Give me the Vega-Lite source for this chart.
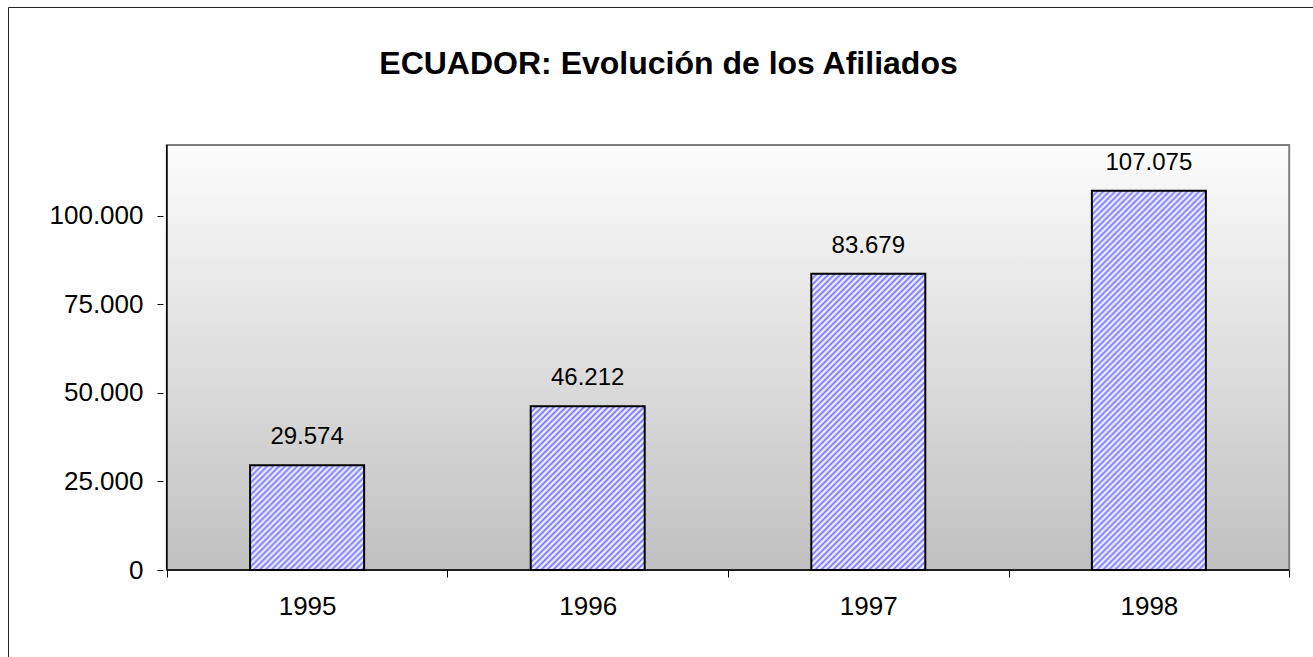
{
"$schema": "https://vega.github.io/schema/vega-lite/v6.json",
"width": 1310,
"height": 655,
"autosize": {"type": "none"},
"padding": {"left": 8, "top": 7, "right": -5, "bottom": -5},
"background": "#ffffff",
"config": {
  "view": {"stroke": null},
  "locale": {"number": {"decimal": ",", "thousands": ".", "grouping": [3], "currency": ["", " €"]}},
  "font": "Liberation Sans",
  "axis": {"labelFont": "Liberation Sans", "labelFontSize": 26, "labelColor": "#000", "grid": false}
},
"title": {"text": "ECUADOR: Evolución de los Afiliados", "font": "Liberation Sans", "fontSize": 32, "fontWeight": "bold", "color": "#000", "anchor": "middle", "frame": "group", "baseline": "alphabetic", "offset": -99, "dx": 5.5},
"data": {"values": [
  {"year": 1995, "value": 29574},
  {"year": 1996, "value": 46212},
  {"year": 1997, "value": 83679},
  {"year": 1998, "value": 107075}
]},
"resolve": {"axis": {"x": "independent", "y": "independent"}},
"layer": [
{
  "data": {"values": [{}]},
  "mark": {"type": "rect", "fill": {"gradient": "linear", "x1": 0, "y1": 0, "x2": 0, "y2": 1, "stops": [{"offset": 0, "color": "#fcfcfc"}, {"offset": 1, "color": "#c0c0c0"}]}, "stroke": "#808080", "strokeWidth": 2},
  "encoding": {
    "x": {"datum": 1994.5, "type": "quantitative", "scale": {"domain": [1993.9518, 1998.5849], "nice": false, "zero": false}, "axis": {"orient": "top", "domain": true, "domainColor": "#222", "domainWidth": 1, "ticks": false, "labels": false, "title": null, "values": []}},
    "x2": {"datum": 1998.5},
    "y": {"datum": 0, "type": "quantitative", "scale": {"domain": [-25976, 158965], "nice": false, "zero": false}, "axis": {"orient": "left", "domain": true, "domainColor": "#222", "domainWidth": 1, "ticks": false, "labels": false, "title": null, "values": []}},
    "y2": {"datum": 120000}
  }
},
{
  "transform": [{"filter": "datum.year == 1995"}],
  "mark": {"type": "bar", "width": 114, "stroke": "#000", "strokeWidth": 2, "fill": {"gradient": "linear", "x1": 0, "y1": 0, "x2": 2.3688, "y2": 2.1764, "stops": [
{"offset":0,"color":"#77f"},{"offset":0.006,"color":"#fff"},{"offset":0.012,"color":"#77f"},{"offset":0.0181,"color":"#fff"},{"offset":0.0241,"color":"#77f"},{"offset":0.0301,"color":"#fff"},{"offset":0.0361,"color":"#77f"},{"offset":0.0422,"color":"#fff"},{"offset":0.0482,"color":"#77f"},{"offset":0.0542,"color":"#fff"},{"offset":0.0602,"color":"#77f"},{"offset":0.0663,"color":"#fff"},{"offset":0.0723,"color":"#77f"},{"offset":0.0783,"color":"#fff"},{"offset":0.0843,"color":"#77f"},{"offset":0.0904,"color":"#fff"},{"offset":0.0964,"color":"#77f"},{"offset":0.1024,"color":"#fff"},{"offset":0.1084,"color":"#77f"},{"offset":0.1145,"color":"#fff"},{"offset":0.1205,"color":"#77f"},{"offset":0.1265,"color":"#fff"},{"offset":0.1325,"color":"#77f"},{"offset":0.1386,"color":"#fff"},{"offset":0.1446,"color":"#77f"},{"offset":0.1506,"color":"#fff"},{"offset":0.1566,"color":"#77f"},{"offset":0.1627,"color":"#fff"},{"offset":0.1687,"color":"#77f"},{"offset":0.1747,"color":"#fff"},{"offset":0.1807,"color":"#77f"},{"offset":0.1867,"color":"#fff"},{"offset":0.1928,"color":"#77f"},{"offset":0.1988,"color":"#fff"},{"offset":0.2048,"color":"#77f"},{"offset":0.2108,"color":"#fff"},{"offset":0.2169,"color":"#77f"},{"offset":0.2229,"color":"#fff"},{"offset":0.2289,"color":"#77f"},{"offset":0.2349,"color":"#fff"},{"offset":0.241,"color":"#77f"},{"offset":0.247,"color":"#fff"},{"offset":0.253,"color":"#77f"},{"offset":0.259,"color":"#fff"},{"offset":0.2651,"color":"#77f"},{"offset":0.2711,"color":"#fff"},{"offset":0.2771,"color":"#77f"},{"offset":0.2831,"color":"#fff"},{"offset":0.2892,"color":"#77f"},{"offset":0.2952,"color":"#fff"},{"offset":0.3012,"color":"#77f"},{"offset":0.3072,"color":"#fff"},{"offset":0.3133,"color":"#77f"},{"offset":0.3193,"color":"#fff"},{"offset":0.3253,"color":"#77f"},{"offset":0.3313,"color":"#fff"},{"offset":0.3373,"color":"#77f"},{"offset":0.3434,"color":"#fff"},{"offset":0.3494,"color":"#77f"},{"offset":0.3554,"color":"#fff"},{"offset":0.3614,"color":"#77f"},{"offset":0.3675,"color":"#fff"},{"offset":0.3735,"color":"#77f"},{"offset":0.3795,"color":"#fff"},{"offset":0.3855,"color":"#77f"},{"offset":0.3916,"color":"#fff"},{"offset":0.3976,"color":"#77f"},{"offset":0.4036,"color":"#fff"},{"offset":0.4096,"color":"#77f"},{"offset":0.4157,"color":"#fff"},{"offset":0.4217,"color":"#77f"},{"offset":0.4277,"color":"#fff"},{"offset":0.4337,"color":"#77f"},{"offset":0.4398,"color":"#fff"},{"offset":0.4458,"color":"#77f"}
  ]}},
  "encoding": {
    "x": {"field": "year", "type": "quantitative", "scale": {"domain": [1993.9518, 1998.5849], "nice": false, "zero": false}, "axis": null},
    "y": {"field": "value", "type": "quantitative", "scale": {"domain": [-25976, 158965], "nice": false, "zero": false}, "axis": null},
    "y2": {"datum": 0}
  }
},
{
  "transform": [{"filter": "datum.year == 1996"}],
  "mark": {"type": "bar", "width": 114, "stroke": "#000", "strokeWidth": 2, "fill": {"gradient": "linear", "x1": 0, "y1": 0, "x2": 1.427, "y2": 2.0488, "stops": [
{"offset":0,"color":"#77f"},{"offset":0.006,"color":"#fff"},{"offset":0.012,"color":"#77f"},{"offset":0.0181,"color":"#fff"},{"offset":0.0241,"color":"#77f"},{"offset":0.0301,"color":"#fff"},{"offset":0.0361,"color":"#77f"},{"offset":0.0422,"color":"#fff"},{"offset":0.0482,"color":"#77f"},{"offset":0.0542,"color":"#fff"},{"offset":0.0602,"color":"#77f"},{"offset":0.0663,"color":"#fff"},{"offset":0.0723,"color":"#77f"},{"offset":0.0783,"color":"#fff"},{"offset":0.0843,"color":"#77f"},{"offset":0.0904,"color":"#fff"},{"offset":0.0964,"color":"#77f"},{"offset":0.1024,"color":"#fff"},{"offset":0.1084,"color":"#77f"},{"offset":0.1145,"color":"#fff"},{"offset":0.1205,"color":"#77f"},{"offset":0.1265,"color":"#fff"},{"offset":0.1325,"color":"#77f"},{"offset":0.1386,"color":"#fff"},{"offset":0.1446,"color":"#77f"},{"offset":0.1506,"color":"#fff"},{"offset":0.1566,"color":"#77f"},{"offset":0.1627,"color":"#fff"},{"offset":0.1687,"color":"#77f"},{"offset":0.1747,"color":"#fff"},{"offset":0.1807,"color":"#77f"},{"offset":0.1867,"color":"#fff"},{"offset":0.1928,"color":"#77f"},{"offset":0.1988,"color":"#fff"},{"offset":0.2048,"color":"#77f"},{"offset":0.2108,"color":"#fff"},{"offset":0.2169,"color":"#77f"},{"offset":0.2229,"color":"#fff"},{"offset":0.2289,"color":"#77f"},{"offset":0.2349,"color":"#fff"},{"offset":0.241,"color":"#77f"},{"offset":0.247,"color":"#fff"},{"offset":0.253,"color":"#77f"},{"offset":0.259,"color":"#fff"},{"offset":0.2651,"color":"#77f"},{"offset":0.2711,"color":"#fff"},{"offset":0.2771,"color":"#77f"},{"offset":0.2831,"color":"#fff"},{"offset":0.2892,"color":"#77f"},{"offset":0.2952,"color":"#fff"},{"offset":0.3012,"color":"#77f"},{"offset":0.3072,"color":"#fff"},{"offset":0.3133,"color":"#77f"},{"offset":0.3193,"color":"#fff"},{"offset":0.3253,"color":"#77f"},{"offset":0.3313,"color":"#fff"},{"offset":0.3373,"color":"#77f"},{"offset":0.3434,"color":"#fff"},{"offset":0.3494,"color":"#77f"},{"offset":0.3554,"color":"#fff"},{"offset":0.3614,"color":"#77f"},{"offset":0.3675,"color":"#fff"},{"offset":0.3735,"color":"#77f"},{"offset":0.3795,"color":"#fff"},{"offset":0.3855,"color":"#77f"},{"offset":0.3916,"color":"#fff"},{"offset":0.3976,"color":"#77f"},{"offset":0.4036,"color":"#fff"},{"offset":0.4096,"color":"#77f"},{"offset":0.4157,"color":"#fff"},{"offset":0.4217,"color":"#77f"},{"offset":0.4277,"color":"#fff"},{"offset":0.4337,"color":"#77f"},{"offset":0.4398,"color":"#fff"},{"offset":0.4458,"color":"#77f"},{"offset":0.4518,"color":"#fff"},{"offset":0.4578,"color":"#77f"},{"offset":0.4639,"color":"#fff"},{"offset":0.4699,"color":"#77f"},{"offset":0.4759,"color":"#fff"},{"offset":0.4819,"color":"#77f"},{"offset":0.488,"color":"#fff"},{"offset":0.494,"color":"#77f"},{"offset":0.5,"color":"#fff"},{"offset":0.506,"color":"#77f"},{"offset":0.512,"color":"#fff"},{"offset":0.5181,"color":"#77f"},{"offset":0.5241,"color":"#fff"},{"offset":0.5301,"color":"#77f"},{"offset":0.5361,"color":"#fff"},{"offset":0.5422,"color":"#77f"},{"offset":0.5482,"color":"#fff"},{"offset":0.5542,"color":"#77f"},{"offset":0.5602,"color":"#fff"},{"offset":0.5663,"color":"#77f"}
  ]}},
  "encoding": {
    "x": {"field": "year", "type": "quantitative", "scale": {"domain": [1993.9518, 1998.5849], "nice": false, "zero": false}, "axis": null},
    "y": {"field": "value", "type": "quantitative", "scale": {"domain": [-25976, 158965], "nice": false, "zero": false}, "axis": null},
    "y2": {"datum": 0}
  }
},
{
  "transform": [{"filter": "datum.year == 1997"}],
  "mark": {"type": "bar", "width": 114, "stroke": "#000", "strokeWidth": 2, "fill": {"gradient": "linear", "x1": 0, "y1": 0, "x2": 0.56304, "y2": 1.46376, "stops": [
{"offset":0,"color":"#77f"},{"offset":0.006,"color":"#fff"},{"offset":0.012,"color":"#77f"},{"offset":0.0181,"color":"#fff"},{"offset":0.0241,"color":"#77f"},{"offset":0.0301,"color":"#fff"},{"offset":0.0361,"color":"#77f"},{"offset":0.0422,"color":"#fff"},{"offset":0.0482,"color":"#77f"},{"offset":0.0542,"color":"#fff"},{"offset":0.0602,"color":"#77f"},{"offset":0.0663,"color":"#fff"},{"offset":0.0723,"color":"#77f"},{"offset":0.0783,"color":"#fff"},{"offset":0.0843,"color":"#77f"},{"offset":0.0904,"color":"#fff"},{"offset":0.0964,"color":"#77f"},{"offset":0.1024,"color":"#fff"},{"offset":0.1084,"color":"#77f"},{"offset":0.1145,"color":"#fff"},{"offset":0.1205,"color":"#77f"},{"offset":0.1265,"color":"#fff"},{"offset":0.1325,"color":"#77f"},{"offset":0.1386,"color":"#fff"},{"offset":0.1446,"color":"#77f"},{"offset":0.1506,"color":"#fff"},{"offset":0.1566,"color":"#77f"},{"offset":0.1627,"color":"#fff"},{"offset":0.1687,"color":"#77f"},{"offset":0.1747,"color":"#fff"},{"offset":0.1807,"color":"#77f"},{"offset":0.1867,"color":"#fff"},{"offset":0.1928,"color":"#77f"},{"offset":0.1988,"color":"#fff"},{"offset":0.2048,"color":"#77f"},{"offset":0.2108,"color":"#fff"},{"offset":0.2169,"color":"#77f"},{"offset":0.2229,"color":"#fff"},{"offset":0.2289,"color":"#77f"},{"offset":0.2349,"color":"#fff"},{"offset":0.241,"color":"#77f"},{"offset":0.247,"color":"#fff"},{"offset":0.253,"color":"#77f"},{"offset":0.259,"color":"#fff"},{"offset":0.2651,"color":"#77f"},{"offset":0.2711,"color":"#fff"},{"offset":0.2771,"color":"#77f"},{"offset":0.2831,"color":"#fff"},{"offset":0.2892,"color":"#77f"},{"offset":0.2952,"color":"#fff"},{"offset":0.3012,"color":"#77f"},{"offset":0.3072,"color":"#fff"},{"offset":0.3133,"color":"#77f"},{"offset":0.3193,"color":"#fff"},{"offset":0.3253,"color":"#77f"},{"offset":0.3313,"color":"#fff"},{"offset":0.3373,"color":"#77f"},{"offset":0.3434,"color":"#fff"},{"offset":0.3494,"color":"#77f"},{"offset":0.3554,"color":"#fff"},{"offset":0.3614,"color":"#77f"},{"offset":0.3675,"color":"#fff"},{"offset":0.3735,"color":"#77f"},{"offset":0.3795,"color":"#fff"},{"offset":0.3855,"color":"#77f"},{"offset":0.3916,"color":"#fff"},{"offset":0.3976,"color":"#77f"},{"offset":0.4036,"color":"#fff"},{"offset":0.4096,"color":"#77f"},{"offset":0.4157,"color":"#fff"},{"offset":0.4217,"color":"#77f"},{"offset":0.4277,"color":"#fff"},{"offset":0.4337,"color":"#77f"},{"offset":0.4398,"color":"#fff"},{"offset":0.4458,"color":"#77f"},{"offset":0.4518,"color":"#fff"},{"offset":0.4578,"color":"#77f"},{"offset":0.4639,"color":"#fff"},{"offset":0.4699,"color":"#77f"},{"offset":0.4759,"color":"#fff"},{"offset":0.4819,"color":"#77f"},{"offset":0.488,"color":"#fff"},{"offset":0.494,"color":"#77f"},{"offset":0.5,"color":"#fff"},{"offset":0.506,"color":"#77f"},{"offset":0.512,"color":"#fff"},{"offset":0.5181,"color":"#77f"},{"offset":0.5241,"color":"#fff"},{"offset":0.5301,"color":"#77f"},{"offset":0.5361,"color":"#fff"},{"offset":0.5422,"color":"#77f"},{"offset":0.5482,"color":"#fff"},{"offset":0.5542,"color":"#77f"},{"offset":0.5602,"color":"#fff"},{"offset":0.5663,"color":"#77f"},{"offset":0.5723,"color":"#fff"},{"offset":0.5783,"color":"#77f"},{"offset":0.5843,"color":"#fff"},{"offset":0.5904,"color":"#77f"},{"offset":0.5964,"color":"#fff"},{"offset":0.6024,"color":"#77f"},{"offset":0.6084,"color":"#fff"},{"offset":0.6145,"color":"#77f"},{"offset":0.6205,"color":"#fff"},{"offset":0.6265,"color":"#77f"},{"offset":0.6325,"color":"#fff"},{"offset":0.6386,"color":"#77f"},{"offset":0.6446,"color":"#fff"},{"offset":0.6506,"color":"#77f"},{"offset":0.6566,"color":"#fff"},{"offset":0.6627,"color":"#77f"},{"offset":0.6687,"color":"#fff"},{"offset":0.6747,"color":"#77f"},{"offset":0.6807,"color":"#fff"},{"offset":0.6867,"color":"#77f"},{"offset":0.6928,"color":"#fff"},{"offset":0.6988,"color":"#77f"},{"offset":0.7048,"color":"#fff"},{"offset":0.7108,"color":"#77f"},{"offset":0.7169,"color":"#fff"},{"offset":0.7229,"color":"#77f"},{"offset":0.7289,"color":"#fff"},{"offset":0.7349,"color":"#77f"},{"offset":0.741,"color":"#fff"},{"offset":0.747,"color":"#77f"},{"offset":0.753,"color":"#fff"},{"offset":0.759,"color":"#77f"},{"offset":0.7651,"color":"#fff"},{"offset":0.7711,"color":"#77f"},{"offset":0.7771,"color":"#fff"},{"offset":0.7831,"color":"#77f"},{"offset":0.7892,"color":"#fff"},{"offset":0.7952,"color":"#77f"},{"offset":0.8012,"color":"#fff"},{"offset":0.8072,"color":"#77f"},{"offset":0.8133,"color":"#fff"},{"offset":0.8193,"color":"#77f"},{"offset":0.8253,"color":"#fff"},{"offset":0.8313,"color":"#77f"}
  ]}},
  "encoding": {
    "x": {"field": "year", "type": "quantitative", "scale": {"domain": [1993.9518, 1998.5849], "nice": false, "zero": false}, "axis": null},
    "y": {"field": "value", "type": "quantitative", "scale": {"domain": [-25976, 158965], "nice": false, "zero": false}, "axis": null},
    "y2": {"datum": 0}
  }
},
{
  "transform": [{"filter": "datum.year == 1998"}],
  "mark": {"type": "bar", "width": 114, "stroke": "#000", "strokeWidth": 2, "fill": {"gradient": "linear", "x1": 0, "y1": 0, "x2": 0.36204, "y2": 1.20436, "stops": [
{"offset":0,"color":"#77f"},{"offset":0.006,"color":"#fff"},{"offset":0.012,"color":"#77f"},{"offset":0.0181,"color":"#fff"},{"offset":0.0241,"color":"#77f"},{"offset":0.0301,"color":"#fff"},{"offset":0.0361,"color":"#77f"},{"offset":0.0422,"color":"#fff"},{"offset":0.0482,"color":"#77f"},{"offset":0.0542,"color":"#fff"},{"offset":0.0602,"color":"#77f"},{"offset":0.0663,"color":"#fff"},{"offset":0.0723,"color":"#77f"},{"offset":0.0783,"color":"#fff"},{"offset":0.0843,"color":"#77f"},{"offset":0.0904,"color":"#fff"},{"offset":0.0964,"color":"#77f"},{"offset":0.1024,"color":"#fff"},{"offset":0.1084,"color":"#77f"},{"offset":0.1145,"color":"#fff"},{"offset":0.1205,"color":"#77f"},{"offset":0.1265,"color":"#fff"},{"offset":0.1325,"color":"#77f"},{"offset":0.1386,"color":"#fff"},{"offset":0.1446,"color":"#77f"},{"offset":0.1506,"color":"#fff"},{"offset":0.1566,"color":"#77f"},{"offset":0.1627,"color":"#fff"},{"offset":0.1687,"color":"#77f"},{"offset":0.1747,"color":"#fff"},{"offset":0.1807,"color":"#77f"},{"offset":0.1867,"color":"#fff"},{"offset":0.1928,"color":"#77f"},{"offset":0.1988,"color":"#fff"},{"offset":0.2048,"color":"#77f"},{"offset":0.2108,"color":"#fff"},{"offset":0.2169,"color":"#77f"},{"offset":0.2229,"color":"#fff"},{"offset":0.2289,"color":"#77f"},{"offset":0.2349,"color":"#fff"},{"offset":0.241,"color":"#77f"},{"offset":0.247,"color":"#fff"},{"offset":0.253,"color":"#77f"},{"offset":0.259,"color":"#fff"},{"offset":0.2651,"color":"#77f"},{"offset":0.2711,"color":"#fff"},{"offset":0.2771,"color":"#77f"},{"offset":0.2831,"color":"#fff"},{"offset":0.2892,"color":"#77f"},{"offset":0.2952,"color":"#fff"},{"offset":0.3012,"color":"#77f"},{"offset":0.3072,"color":"#fff"},{"offset":0.3133,"color":"#77f"},{"offset":0.3193,"color":"#fff"},{"offset":0.3253,"color":"#77f"},{"offset":0.3313,"color":"#fff"},{"offset":0.3373,"color":"#77f"},{"offset":0.3434,"color":"#fff"},{"offset":0.3494,"color":"#77f"},{"offset":0.3554,"color":"#fff"},{"offset":0.3614,"color":"#77f"},{"offset":0.3675,"color":"#fff"},{"offset":0.3735,"color":"#77f"},{"offset":0.3795,"color":"#fff"},{"offset":0.3855,"color":"#77f"},{"offset":0.3916,"color":"#fff"},{"offset":0.3976,"color":"#77f"},{"offset":0.4036,"color":"#fff"},{"offset":0.4096,"color":"#77f"},{"offset":0.4157,"color":"#fff"},{"offset":0.4217,"color":"#77f"},{"offset":0.4277,"color":"#fff"},{"offset":0.4337,"color":"#77f"},{"offset":0.4398,"color":"#fff"},{"offset":0.4458,"color":"#77f"},{"offset":0.4518,"color":"#fff"},{"offset":0.4578,"color":"#77f"},{"offset":0.4639,"color":"#fff"},{"offset":0.4699,"color":"#77f"},{"offset":0.4759,"color":"#fff"},{"offset":0.4819,"color":"#77f"},{"offset":0.488,"color":"#fff"},{"offset":0.494,"color":"#77f"},{"offset":0.5,"color":"#fff"},{"offset":0.506,"color":"#77f"},{"offset":0.512,"color":"#fff"},{"offset":0.5181,"color":"#77f"},{"offset":0.5241,"color":"#fff"},{"offset":0.5301,"color":"#77f"},{"offset":0.5361,"color":"#fff"},{"offset":0.5422,"color":"#77f"},{"offset":0.5482,"color":"#fff"},{"offset":0.5542,"color":"#77f"},{"offset":0.5602,"color":"#fff"},{"offset":0.5663,"color":"#77f"},{"offset":0.5723,"color":"#fff"},{"offset":0.5783,"color":"#77f"},{"offset":0.5843,"color":"#fff"},{"offset":0.5904,"color":"#77f"},{"offset":0.5964,"color":"#fff"},{"offset":0.6024,"color":"#77f"},{"offset":0.6084,"color":"#fff"},{"offset":0.6145,"color":"#77f"},{"offset":0.6205,"color":"#fff"},{"offset":0.6265,"color":"#77f"},{"offset":0.6325,"color":"#fff"},{"offset":0.6386,"color":"#77f"},{"offset":0.6446,"color":"#fff"},{"offset":0.6506,"color":"#77f"},{"offset":0.6566,"color":"#fff"},{"offset":0.6627,"color":"#77f"},{"offset":0.6687,"color":"#fff"},{"offset":0.6747,"color":"#77f"},{"offset":0.6807,"color":"#fff"},{"offset":0.6867,"color":"#77f"},{"offset":0.6928,"color":"#fff"},{"offset":0.6988,"color":"#77f"},{"offset":0.7048,"color":"#fff"},{"offset":0.7108,"color":"#77f"},{"offset":0.7169,"color":"#fff"},{"offset":0.7229,"color":"#77f"},{"offset":0.7289,"color":"#fff"},{"offset":0.7349,"color":"#77f"},{"offset":0.741,"color":"#fff"},{"offset":0.747,"color":"#77f"},{"offset":0.753,"color":"#fff"},{"offset":0.759,"color":"#77f"},{"offset":0.7651,"color":"#fff"},{"offset":0.7711,"color":"#77f"},{"offset":0.7771,"color":"#fff"},{"offset":0.7831,"color":"#77f"},{"offset":0.7892,"color":"#fff"},{"offset":0.7952,"color":"#77f"},{"offset":0.8012,"color":"#fff"},{"offset":0.8072,"color":"#77f"},{"offset":0.8133,"color":"#fff"},{"offset":0.8193,"color":"#77f"},{"offset":0.8253,"color":"#fff"},{"offset":0.8313,"color":"#77f"},{"offset":0.8373,"color":"#fff"},{"offset":0.8434,"color":"#77f"},{"offset":0.8494,"color":"#fff"},{"offset":0.8554,"color":"#77f"},{"offset":0.8614,"color":"#fff"},{"offset":0.8675,"color":"#77f"},{"offset":0.8735,"color":"#fff"},{"offset":0.8795,"color":"#77f"},{"offset":0.8855,"color":"#fff"},{"offset":0.8916,"color":"#77f"},{"offset":0.8976,"color":"#fff"},{"offset":0.9036,"color":"#77f"},{"offset":0.9096,"color":"#fff"},{"offset":0.9157,"color":"#77f"},{"offset":0.9217,"color":"#fff"},{"offset":0.9277,"color":"#77f"},{"offset":0.9337,"color":"#fff"},{"offset":0.9398,"color":"#77f"},{"offset":0.9458,"color":"#fff"},{"offset":0.9518,"color":"#77f"},{"offset":0.9578,"color":"#fff"},{"offset":0.9639,"color":"#77f"},{"offset":0.9699,"color":"#fff"},{"offset":0.9759,"color":"#77f"},{"offset":0.9819,"color":"#fff"},{"offset":0.988,"color":"#77f"},{"offset":0.994,"color":"#fff"},{"offset":1,"color":"#77f"}
  ]}},
  "encoding": {
    "x": {"field": "year", "type": "quantitative", "scale": {"domain": [1993.9518, 1998.5849], "nice": false, "zero": false}, "axis": null},
    "y": {"field": "value", "type": "quantitative", "scale": {"domain": [-25976, 158965], "nice": false, "zero": false}, "axis": null},
    "y2": {"datum": 0}
  }
},
{
  "data": {"values": [{}]},
  "mark": {"type": "rule", "color": "#000", "strokeWidth": 1.5},
  "encoding": {
    "x": {"datum": 1994.5, "type": "quantitative", "scale": {"domain": [1993.9518, 1998.5849], "nice": false, "zero": false}, "axis": {"orient": "bottom", "offset": -92, "domain": false, "labels": false, "ticks": true, "tickSize": 7, "tickColor": "#000", "tickWidth": 1, "values": [1994.5, 1995.5, 1996.5, 1997.5, 1998.5], "title": null, "zindex": 1}},
    "y": {"datum": 0, "type": "quantitative", "scale": {"domain": [-25976, 158965], "nice": false, "zero": false}, "axis": null},
    "y2": {"datum": 120000}
  }
},
{
  "data": {"values": [{}]},
  "mark": {"type": "rule", "color": "#000", "strokeWidth": 1.5},
  "encoding": {
    "x": {"datum": 1994.5, "type": "quantitative", "scale": {"domain": [1993.9518, 1998.5849], "nice": false, "zero": false}, "axis": null},
    "x2": {"datum": 1998.5},
    "y": {"datum": 0, "type": "quantitative", "scale": {"domain": [-25976, 158965], "nice": false, "zero": false}, "axis": null}
  }
},
{
  "mark": {"type": "text", "font": "Liberation Sans", "fontSize": 24, "color": "#000", "baseline": "middle", "dy": -28},
  "encoding": {
    "x": {"field": "year", "type": "quantitative", "scale": {"domain": [1993.9518, 1998.5849], "nice": false, "zero": false}, "axis": {"orient": "bottom", "offset": -92, "domain": false, "ticks": false, "tickSize": 0, "values": [1995, 1996, 1997, 1998], "format": "d", "labelPadding": 23, "labelFontSize": 26, "labelColor": "#000", "title": null}},
    "y": {"field": "value", "type": "quantitative", "scale": {"domain": [-25976, 158965], "nice": false, "zero": false}, "axis": {"orient": "left", "offset": -155, "domain": false, "ticks": true, "tickSize": 6, "tickColor": "#000", "tickWidth": 1, "values": [0, 25000, 50000, 75000, 100000], "format": ",.0f", "labelPadding": 14, "labelFontSize": 26, "labelColor": "#000", "title": null, "zindex": 1}},
    "text": {"field": "value", "type": "quantitative", "format": ","}
  }
}
]
}
